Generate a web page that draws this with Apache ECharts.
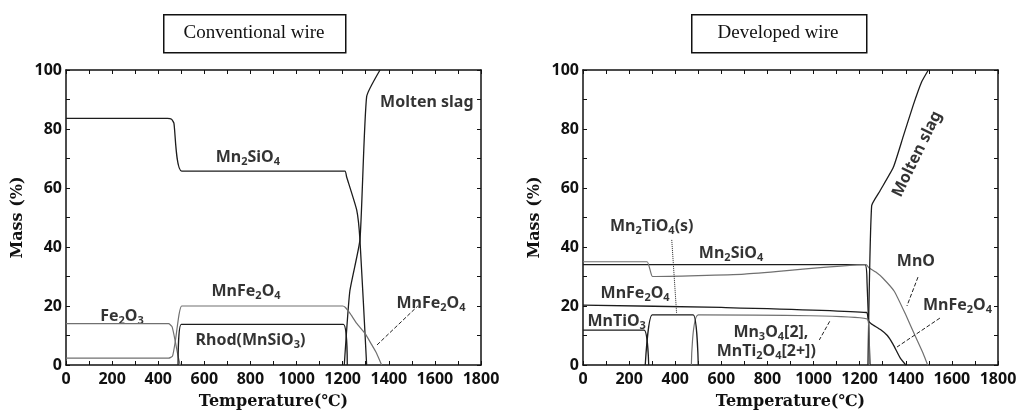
<!DOCTYPE html>
<html>
<head>
<meta charset="utf-8">
<script src="https://cdn.jsdelivr.net/npm/echarts@6/dist/echarts.min.js"></script>
<style>
  html, body { margin: 0; padding: 0; background: #fff; }
  #chart { width: 1025px; height: 418px; }
</style>
</head>
<body>
<div id="chart"></div>
<script>
// temperature (C) vs mass (%) -- conventional wire
var convMn2SiO4 = [[0,83.6],[440,83.6],[458,83.3],[468,82],[502,65.7],[1210,65.7],[1217,63.8],[1261,52.5],[1275,42.4],[1304,0]];
var convSlag = [[1207,0],[1231,25],[1275,42.4],[1304,91],[1362,100]];
var convMnFe2O4 = [[0,2.3],[445,2.3],[462,3],[474,8],[490,17],[502,20],[1200,20],[1212,19.5],[1232,17.5],[1261,14.1],[1297,10.7],[1325,7],[1347,4],[1369,0]];
var convFe2O3 = [[0,14],[445,14],[460,13],[474,8],[486,3],[495,0]];
var convRhod = [[486,0],[500,13.8],[1203,13.8],[1220,0]];

// developed wire
var devMn2SiO4 = [[0,34],[1223,34],[1232,28],[1245,0]];
var devMnO = [[0,35],[278,35],[290,32.5],[302,30],[700,30.8],[1228,34],[1240,33],[1270,31.5],[1300,29.5],[1350,25],[1400,17],[1440,10],[1475,4],[1495,0]];
var devSlag = [[1236,0],[1252,54],[1288,59],[1346,67],[1389,77.5],[1432,88],[1469,96],[1498,100]];
var devMnFe2O4 = [[0,20.3],[600,19.5],[1230,17.8],[1238,15],[1250,14],[1290,12],[1320,10],[1345,7],[1375,2.5],[1400,0]];
var devMn3O4 = [[470,0],[500,17],[1235,15.5],[1242,0]];
var devMn2TiO4 = [[270,0],[300,17],[478,17],[500,0]];
var devMnTiO3 = [[0,11.8],[265,11.8],[285,0]];

// annotations [x, y, text]
var convLabels = [
  [789, 70.5, 'Mn{s|2}SiO{s|4}'],
  [1565, 88.9, 'Molten slag'],
  [781, 25.1, 'MnFe{s|2}O{s|4}'],
  [243, 16.6, 'Fe{s|2}O{s|3}'],
  [800, 8.2, 'Rhod(MnSiO{s|3})'],
  [1583, 21, 'MnFe{s|2}O{s|4}']
];
var convLeaders = [[[1349,6.8],[1526,20]]];

var devLabels = [
  [298, 46.9, 'Mn{s|2}TiO{s|4}(s)'],
  [642, 37.9, 'Mn{s|2}SiO{s|4}'],
  [226, 24.3, 'MnFe{s|2}O{s|4}'],
  [146, 14.7, 'MnTiO{s|3}'],
  [815, 11.2, 'Mn{s|3}O{s|4}[2],'],
  [795, 4.7, 'MnTi{s|2}O{s|4}[2+])'],
  [1444, 35, 'MnO'],
  [1624, 20.3, 'MnFe{s|2}O{s|4}']
];
var devSlagLabel = [1449, 71.5, 'Molten slag'];
var devLeaders = [[[1453,29.8],[1405,20]], [[1548,15.9],[1362,6.1]], [[1070,14.8],[1025,8.5]]];
var devDotted = [[[385,42.4],[406,17.5]]];

var DARK = '#1c1c1c', GRAY = '#707070';
var labelFont = '"Noto Sans", "Liberation Sans", sans-serif';
var serif = '"DejaVu Serif", "Liberation Serif", serif';

function xAx(g, top) {
  return {
    type: 'value', gridIndex: g, min: 0, max: 1800, interval: 100,
    position: top ? 'top' : 'bottom',
    name: top ? '' : 'Temperature(℃)', nameLocation: 'middle', nameGap: 29,
    nameTextStyle: { fontFamily: serif, fontWeight: 'bold', fontSize: 16, color: '#111' },
    axisLine: { show: true, onZero: false, lineStyle: { color: '#111', width: 1.5 } },
    axisTick: { show: true, inside: true, length: 4, lineStyle: { color: '#111' } },
    axisLabel: {
      show: !top, margin: 6, fontFamily: labelFont, fontWeight: 'bold', fontSize: 16, color: '#111',
      formatter: function (v) { return v % 200 === 0 ? v : ''; }
    },
    splitLine: { show: false }
  };
}
function yAx(g, right) {
  return {
    type: 'value', gridIndex: g, min: 0, max: 100, interval: 10,
    position: right ? 'right' : 'left',
    name: right ? '' : 'Mass (%)', nameLocation: 'middle', nameGap: 40, nameRotate: 90,
    nameTextStyle: { fontFamily: serif, fontWeight: 'bold', fontSize: 16, color: '#111' },
    axisLine: { show: true, onZero: false, lineStyle: { color: '#111', width: 1.5 } },
    axisTick: { show: true, inside: true, length: 4, lineStyle: { color: '#111' } },
    axisLabel: {
      show: !right, margin: 4, fontFamily: labelFont, fontWeight: 'bold', fontSize: 16, color: '#111',
      formatter: function (v) { return v % 20 === 0 ? v : ''; }
    },
    splitLine: { show: false }
  };
}

function curve(data, g, color, width) {
  return {
    type: 'line', xAxisIndex: g * 2, yAxisIndex: g * 2, data: data,
    showSymbol: false, smooth: 0.15, silent: true,
    lineStyle: { color: color, width: width || 1.3 }
  };
}
function leader(pts, g, dash) {
  return {
    type: 'line', xAxisIndex: g * 2, yAxisIndex: g * 2, data: pts,
    showSymbol: false, silent: true,
    lineStyle: { color: '#222', width: 1, type: dash }
  };
}
var rich = {
  b: { fontSize: 16, lineHeight: 20, fontFamily: labelFont, fontWeight: 'bold', color: '#000', textBorderWidth: 0 },
  s: { fontSize: 11, lineHeight: 11, verticalAlign: 'bottom', fontFamily: labelFont, fontWeight: 'bold', color: '#000', textBorderWidth: 0 }
};
// wrap plain parts in the {b|..} style so every run is bold
function richText(t) {
  return t.split(/(\{s\|[^}]*\})/).map(function (part) {
    if (!part) return '';
    return part.indexOf('{s|') === 0 ? part : '{b|' + part + '}';
  }).join('');
}
function texts(list, g, extra) {
  return {
    type: 'scatter', xAxisIndex: g * 2, yAxisIndex: g * 2, symbolSize: 0, silent: true,
    data: list.map(function (d) {
      var item = { value: [d[0], d[1]], name: d[2] };
      if (extra) item.label = extra;
      return item;
    }),
    label: {
      show: true, position: 'inside', formatter: function (p) { return richText(p.name); },
      fontFamily: labelFont, fontWeight: 'bold', fontSize: 16, lineHeight: 20, color: '#000',
      textBorderWidth: 0, rich: rich
    }
  };
}

var series = [
  curve(convMn2SiO4, 0, DARK), curve(convSlag, 0, DARK), curve(convMnFe2O4, 0, GRAY, 1.2),
  curve(convFe2O3, 0, GRAY, 1.2), curve(convRhod, 0, DARK),
  curve(devMn2SiO4, 1, DARK), curve(devMnO, 1, GRAY, 1.2), curve(devSlag, 1, DARK),
  curve(devMnFe2O4, 1, DARK), curve(devMn3O4, 1, GRAY, 1.2), curve(devMn2TiO4, 1, DARK),
  curve(devMnTiO3, 1, DARK),
  texts(convLabels, 0), texts(devLabels, 1), texts([devSlagLabel], 1, { rotate: 64 })
];
convLeaders.forEach(function (l) { series.push(leader(l, 0, 'dashed')); });
devLeaders.forEach(function (l) { series.push(leader(l, 1, 'dashed')); });
devDotted.forEach(function (l) { series.push(leader(l, 1, 'dotted')); });

var chart = echarts.init(document.getElementById('chart'), null, { renderer: 'canvas' });
chart.setOption({
  animation: false,
  backgroundColor: '#fff',
  grid: [
    { left: 66, top: 70, width: 415, height: 295 },
    { left: 583, top: 70, width: 415, height: 295 }
  ],
  xAxis: [xAx(0, false), xAx(0, true), xAx(1, false), xAx(1, true)],
  yAxis: [yAx(0, false), yAx(0, true), yAx(1, false), yAx(1, true)],
  graphic: [
    { type: 'rect', left: 163, top: 14, shape: { width: 182, height: 38 },
      style: { fill: '#fff', stroke: '#111', lineWidth: 1.5 } },
    { type: 'text', x: 254, y: 33, style: { text: 'Conventional wire', fontFamily: '"Liberation Serif", serif',
      fontSize: 19, fill: '#111', align: 'center', verticalAlign: 'middle' } },
    { type: 'rect', left: 691, top: 14, shape: { width: 175, height: 38 },
      style: { fill: '#fff', stroke: '#111', lineWidth: 1.5 } },
    { type: 'text', x: 778, y: 33, style: { text: 'Developed wire', fontFamily: '"Liberation Serif", serif',
      fontSize: 19, fill: '#111', align: 'center', verticalAlign: 'middle' } }
  ],
  series: series
});
</script>
</body>
</html>
